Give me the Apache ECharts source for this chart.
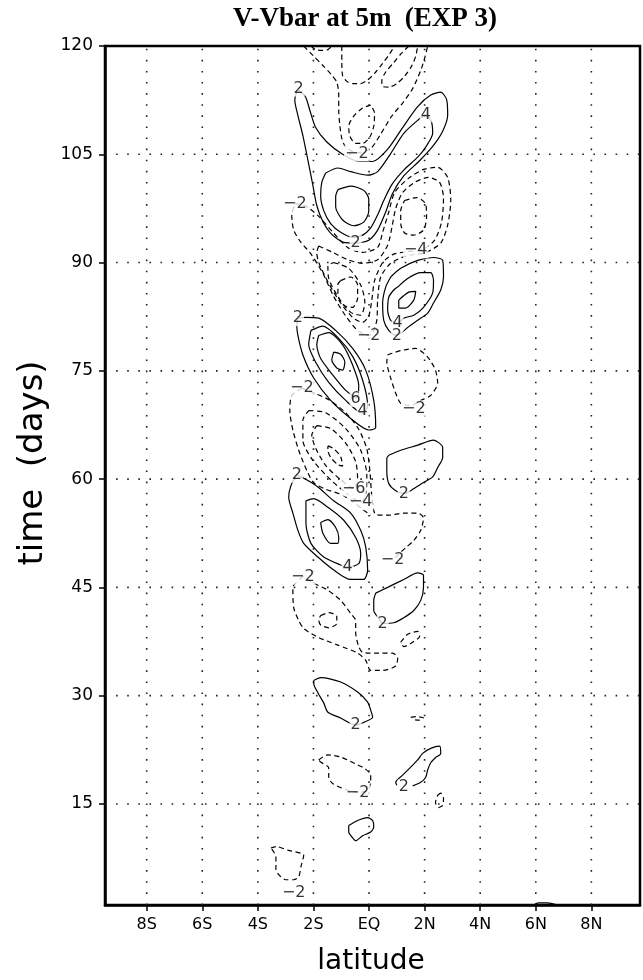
<!DOCTYPE html>
<html>
<head>
<meta charset="utf-8">
<script src="https://cdn.jsdelivr.net/npm/echarts@6/dist/echarts.min.js"></script>
<style>html,body{margin:0;padding:0;background:#fff;}#c{width:643px;height:980px;}</style>
</head>
<body>
<div id="c"></div>
<script>
// ---- axis ticks ----
const latTicks = [-8, -6, -4, -2, 0, 2, 4, 6, 8];
const latLabels = ['8S', '6S', '4S', '2S', 'EQ', '2N', '4N', '6N', '8N'];
const dayTicks = [15, 30, 45, 60, 75, 90, 105, 120];
const latRange = [-9.5, 9.75];
const dayRange = [1, 120];

// ---- contour lines, [latitude, day] ----
const topA = [[-2.35,120],[-2.02,118.7],[-1.66,117.3],[-1.37,116.1],[-1.16,115.0],[-1.09,113.2],[-1.09,111.1],[-1.05,109.0],[-0.98,107.2],[-0.84,106.0],[-0.44,105.2],[0.06,105.8],[0.42,107.8],[0.82,110.3],[1.21,112.1],[1.57,114.1],[1.86,116.6],[2.0,118.3],[2.11,120]];
const topB = [[-2.09,120],[-1.92,119.5],[-1.70,119.4],[-1.48,119.5],[-1.34,120]];
const topC = [[-0.98,120],[-0.98,118.0],[-0.95,115.9],[-0.80,115.1],[-0.59,114.8],[-0.30,114.8],[-0.05,115.3],[0.20,116.2],[0.49,117.6],[0.74,118.9],[0.92,120]];
const topD = [[1.43,120],[1.17,119.0],[0.89,117.7],[0.60,116.4],[0.46,115.2],[0.49,114.4],[0.71,114.3],[1.0,114.8],[1.28,115.8],[1.53,117.2],[1.68,118.6],[1.75,120]];
const topE = [[0.06,111.8],[-0.23,111.4],[-0.55,110.3],[-0.73,108.9],[-0.69,107.5],[-0.48,106.5],[-0.23,106.5],[0.03,107.4],[0.17,108.9],[0.20,110.7],[0.06,111.8]];

const bandA2 = [[-2.53,113.9],[-2.28,112.9],[-2.13,111.1],[-1.92,108.7],[-1.52,106.7],[-0.95,105.0],[-0.37,104.0],[0.13,104.0],[0.67,105.7],[1.21,108.7],[1.75,111.6],[2.22,113.2],[2.58,113.6],[2.79,112.6],[2.83,110.4],[2.65,108.2],[2.29,106.1],[1.79,104.0],[1.25,102.0],[0.85,99.6],[0.60,97.0],[0.31,94.5],[-0.01,93.1],[-0.48,92.7],[-0.91,92.8],[-1.34,93.9],[-1.66,95.7],[-1.88,97.9],[-2.02,100.7],[-2.20,104.2],[-2.38,107.6],[-2.56,110.4],[-2.67,112.5],[-2.63,113.3],[-2.53,113.9]];
const bandA4 = [[-1.56,102.4],[-1.12,103.1],[-0.66,102.6],[-0.05,102.1],[0.31,102.6],[0.78,105.1],[1.25,107.9],[1.75,109.7],[2.04,110.5],[2.25,109.4],[2.29,107.9],[2.04,106.0],[1.75,104.6],[1.25,102.8],[0.82,100.8],[0.53,98.6],[0.31,96.6],[0.06,94.8],[-0.23,93.8],[-0.59,93.5],[-1.02,94.2],[-1.38,95.4],[-1.63,97.2],[-1.74,99.3],[-1.70,101.1],[-1.56,102.4]];
const blobA6 = [[-1.12,100.1],[-0.66,100.6],[-0.19,100.0],[-0.01,98.8],[-0.01,97.1],[-0.19,95.6],[-0.55,95.1],[-0.95,95.9],[-1.20,97.7],[-1.20,99.2],[-1.12,100.1]];

const negB2 = [[-2.67,98.2],[-2.27,97.8],[-1.81,96.4],[-1.30,94.2],[-0.77,92.1],[-0.23,91.4],[0.31,92.1],[0.49,94.2],[0.71,97.0],[0.92,99.7],[1.43,101.7],[1.96,102.9],[2.47,103.2],[2.83,101.8],[2.94,98.6],[2.83,95.2],[2.58,92.7],[2.04,91.4],[1.32,90.9],[0.78,89.9],[0.42,88.0],[0.31,84.8],[0.28,82.0],[0.13,80.3],[-0.01,79.9],[-0.41,80.6],[-0.84,82.6],[-1.27,85.3],[-1.66,88.5],[-2.09,91.2],[-2.45,92.8],[-2.71,94.5],[-2.78,96.6],[-2.67,98.2]];
const negB4 = [[-1.81,92.3],[-1.30,91.4],[-0.77,90.4],[-0.23,89.9],[0.31,90.4],[0.67,92.4],[0.82,94.8],[0.96,97.5],[1.21,99.7],[1.64,101.1],[2.14,101.8],[2.54,101.1],[2.68,98.9],[2.61,95.6],[2.36,93.1],[1.93,91.8],[1.32,91.5],[0.85,91.1],[0.49,90.0],[0.20,87.5],[0.10,84.8],[-0.01,82.6],[-0.23,81.7],[-0.59,82.4],[-1.02,84.4],[-1.45,87.1],[-1.81,90.0],[-1.88,91.4],[-1.81,92.3]];
const negBR6 = [[1.28,98.6],[1.71,99.0],[2.04,98.1],[2.07,96.3],[1.96,94.5],[1.61,93.8],[1.28,94.1],[1.14,95.4],[1.14,97.2],[1.28,98.6]];
const negBL6 = [[-1.27,90.0],[-0.73,89.2],[-0.30,86.9],[-0.15,84.5],[-0.30,82.7],[-0.66,83.1],[-1.09,85.1],[-1.45,87.8],[-1.48,89.5],[-1.27,90.0]];
const negBL8 = [[-1.02,87.5],[-0.66,88.0],[-0.41,86.9],[-0.41,85.1],[-0.59,83.8],[-0.91,84.1],[-1.12,85.5],[-1.12,87.0],[-1.02,87.5]];

const posC2 = [[-2.56,82.3],[-2.27,82.4],[-1.81,82.3],[-1.20,80.6],[-0.59,78.1],[-0.12,75.1],[0.17,70.9],[0.24,67.1],[-0.01,66.8],[-0.66,68.4],[-1.38,70.9],[-1.99,74.0],[-2.38,77.2],[-2.56,79.9],[-2.60,81.3],[-2.56,82.3]];
const posC4 = [[-2.09,80.6],[-1.66,81.2],[-1.09,79.5],[-0.59,77.0],[-0.23,73.7],[-0.05,70.2],[-0.23,69.1],[-0.84,70.9],[-1.45,73.4],[-1.92,76.2],[-2.17,78.6],[-2.09,80.6]];
const posC6 = [[-1.81,79.9],[-1.45,80.3],[-0.95,78.6],[-0.59,75.8],[-0.37,73.0],[-0.44,71.3],[-0.84,72.3],[-1.30,74.4],[-1.74,76.7],[-1.88,78.6],[-1.81,79.9]];
const posC8 = [[-1.27,77.6],[-1.02,77.3],[-0.87,76.2],[-0.95,75.1],[-1.16,75.4],[-1.34,76.5],[-1.27,77.6]];
const negCr = [[0.67,77.2],[1.14,77.8],[1.68,78.1],[2.11,76.9],[2.39,75.1],[2.47,73.3],[2.22,71.6],[1.86,70.9],[1.50,70.2],[1.14,70.5],[0.96,71.9],[0.78,74.0],[0.64,76.2],[0.67,77.2]];

const posR2 = [[0.78,88.0],[1.14,89.2],[1.75,90.3],[2.32,90.7],[2.65,90.3],[2.68,88.0],[2.58,86.2],[2.32,84.4],[2.11,83.0],[1.75,82.0],[1.39,81.0],[1.14,80.2],[0.96,79.9],[0.71,80.6],[0.53,82.0],[0.49,84.4],[0.60,86.6],[0.78,88.0]];
const posR4 = [[1.03,86.6],[1.39,87.8],[1.86,88.6],[2.22,88.6],[2.32,87.5],[2.29,85.8],[1.96,83.8],[1.61,82.7],[1.25,82.3],[1.03,81.6],[0.78,82.0],[0.67,83.4],[0.71,85.2],[0.89,86.2],[1.03,86.6]];
const posR6 = [[1.07,84.8],[1.43,85.9],[1.68,86.0],[1.61,84.8],[1.32,83.7],[1.07,83.7],[1.07,84.8]];

const negDin = [[-1.48,64.6],[-1.27,64.2],[-1.02,63.1],[-0.95,61.8],[-1.12,62.0],[-1.38,63.0],[-1.48,64.0],[-1.48,64.6]];
const negD6 = [[-1.88,67.4],[-1.38,67.0],[-0.84,65.0],[-0.48,62.4],[-0.41,59.9],[-0.55,58.7],[-1.02,59.9],[-1.56,61.9],[-1.92,64.3],[-2.06,66.1],[-1.88,67.4]];
const negD4 = [[-2.17,69.5],[-1.56,69.2],[-0.84,67.0],[-0.30,64.0],[-0.08,60.6],[-0.12,57.8],[-0.30,56.8],[-0.73,57.8],[-1.38,59.9],[-2.02,62.6],[-2.38,65.4],[-2.38,68.2],[-2.17,69.5]];
const negD2a = [[-2.42,72.6],[-2.78,71.6],[-2.85,69.5],[-2.74,66.8],[-2.53,64.0],[-2.24,61.2],[-1.99,59.5],[-1.56,58.6],[-1.02,57.9],[-0.59,56.9],[-0.23,55.8],[0.06,55.0]];
const negD2b = [[-2.42,72.6],[-2.02,72.0],[-1.45,71.0],[-0.84,69.2],[-0.37,66.9],[-0.08,64.2],[0.03,61.2],[0.10,57.7],[0.24,55.1],[0.71,55.0],[1.25,55.3],[1.75,55.3],[1.96,54.6],[1.86,52.9],[1.61,51.5],[1.32,50.5],[0.85,48.8]];

const posD2 = [[0.71,63.3],[1.14,64.0],[1.75,64.7],[2.32,65.4],[2.65,64.4],[2.65,63.0],[2.47,61.6],[2.29,60.3],[1.86,59.3],[1.50,58.4],[1.25,58.0],[0.96,58.4],[0.71,59.4],[0.64,61.2],[0.64,62.9],[0.71,63.3]];

const posE2 = [[-2.60,60.6],[-2.81,59.1],[-2.89,57.5],[-2.74,55.3],[-2.56,52.9],[-2.35,51.1],[-1.84,49.2],[-1.27,47.4],[-0.66,46.1],[-0.19,46.1],[-0.05,47.4],[-0.12,50.6],[-0.30,52.9],[-0.66,55.3],[-1.27,57.0],[-1.84,58.9],[-2.20,59.8],[-2.60,60.6]];
const posE4 = [[-2.27,57.0],[-1.99,57.3],[-1.48,56.1],[-0.91,54.3],[-0.48,51.9],[-0.30,49.7],[-0.37,48.3],[-0.77,47.8],[-1.02,48.1],[-1.63,49.2],[-2.09,51.1],[-2.27,53.9],[-2.27,56.1],[-2.27,57.0]];
const posE6 = [[-1.74,54.0],[-1.48,54.4],[-1.20,53.3],[-1.09,51.9],[-1.12,51.1],[-1.38,51.1],[-1.66,52.5],[-1.74,54.0]];

const negF2 = [[-2.38,46.5],[-2.74,45.0],[-2.71,42.2],[-2.53,40.4],[-2.35,39.3],[-1.84,38.1],[-1.12,37.0],[-0.41,35.9],[-0.12,34.9],[0.06,33.5],[0.49,33.5],[0.96,34.1],[1.03,35.2],[0.85,35.9],[0.24,35.9],[-0.23,36.0],[-0.37,36.8],[-0.48,38.7],[-0.48,40.4],[-0.66,41.4],[-1.02,43.2],[-1.48,44.6],[-1.99,45.6],[-2.38,46.5]];
const negFin = [[-1.74,41.1],[-1.45,41.5],[-1.16,41.0],[-1.16,40.0],[-1.45,39.4],[-1.74,39.8],[-1.81,40.5],[-1.74,41.1]];
const posF2 = [[0.24,44.2],[0.67,45.0],[1.25,46.1],[1.75,47.0],[1.96,46.7],[1.96,45.0],[1.86,43.2],[1.61,41.8],[1.25,40.8],[0.89,40.1],[0.49,40.0],[0.35,40.7],[0.17,41.8],[0.17,43.2],[0.24,44.2]];
const negFs = [[1.14,37.4],[1.39,38.5],[1.75,38.9],[1.82,38.2],[1.61,37.5],[1.25,36.8],[1.14,37.4]];

const posG2 = [[-1.99,32.1],[-1.74,32.5],[-1.02,31.9],[-0.41,30.5],[-0.05,29.1],[0.06,28.0],[0.13,27.0],[-0.19,26.3],[-0.48,25.9],[-1.02,26.9],[-1.48,27.7],[-1.63,29.0],[-1.84,30.4],[-1.99,31.7],[-1.99,32.1]];
const negGs = [[1.50,27.0],[1.71,27.1],[1.96,26.9],[1.79,26.6],[1.53,26.7]];

const negH2 = [[-1.81,21.1],[-1.48,21.8],[-1.02,21.5],[-0.41,20.4],[-0.15,19.9],[0.06,19.0],[0.06,18.0],[-0.05,16.9],[-0.41,16.6],[-0.77,16.9],[-1.30,17.8],[-1.45,18.7],[-1.45,20.0],[-1.74,20.8],[-1.81,21.1]];
const posH2 = [[1.0,17.6],[0.96,18.0],[1.21,19.0],[1.50,20.1],[1.75,21.1],[1.93,22.0],[2.22,22.7],[2.54,23.0],[2.58,22.0],[2.39,21.4],[2.22,20.7],[2.11,19.7],[2.04,18.7],[1.86,18.0],[1.57,17.5]];
const negHs = [[2.47,16.2],[2.58,16.5],[2.68,15.8],[2.65,14.8],[2.50,14.5],[2.39,15.2],[2.47,16.2]];
const posI2 = [[-0.73,12.0],[-0.41,12.7],[-0.05,13.1],[0.13,12.7],[0.17,11.8],[0.06,11.1],[-0.23,10.6],[-0.48,9.9],[-0.59,10.3],[-0.73,11.1],[-0.73,12.0]];
const negI2 = [[-3.53,8.9],[-3.35,9.1],[-2.92,8.6],[-2.35,7.9],[-2.45,6.3],[-2.53,4.9],[-2.71,4.5],[-3.0,4.5],[-3.17,4.9],[-3.35,5.9],[-3.35,7.7],[-3.53,8.9]];
const posJ2 = [[5.92,1.0],[6.10,1.3],[6.42,1.3],[6.78,1.0]];

// contour level of each line
const contourSet = [
  [-2, topA], [-4, topB], [-4, topC], [-4, topD], [-4, topE],
  [2, bandA2], [4, bandA4], [6, blobA6],
  [-2, negB2], [-4, negB4], [-6, negBR6], [-6, negBL6], [-8, negBL8],
  [2, posC2], [4, posC4], [6, posC6], [8, posC8], [-2, negCr],
  [2, posR2], [4, posR4], [6, posR6],
  [-8, negDin], [-6, negD6], [-4, negD4], [-2, negD2a], [-2, negD2b],
  [2, posD2], [2, posE2], [4, posE4], [6, posE6],
  [-2, negF2], [-4, negFin], [2, posF2], [-2, negFs],
  [2, posG2], [-2, negGs], [-2, negH2], [2, posH2], [-2, negHs],
  [2, posI2], [-2, negI2], [2, posJ2]
];

// contour labels [lat, day, text]
const contourLabels = [
  [-2.53, 114.1, '2'], [2.04, 110.5, '4'], [-0.44, 105.1, '−2'], [-2.67, 98.2, '−2'],
  [-0.48, 92.7, '2'], [1.68, 91.7, '−4'], [-2.56, 82.3, '2'], [1.03, 81.6, '4'],
  [1.0, 79.9, '2'], [-0.01, 79.9, '−2'], [1.61, 69.8, '−2'], [-0.48, 71.1, '6'],
  [-0.23, 69.5, '4'], [-2.42, 72.6, '−2'], [-2.60, 60.6, '2'], [-0.55, 58.7, '−6'],
  [-0.30, 56.8, '−4'], [1.25, 58.0, '2'], [-0.77, 47.8, '4'], [0.85, 48.8, '−2'],
  [-2.38, 46.5, '−2'], [0.49, 40.0, '2'], [-0.48, 25.9, '2'], [-0.41, 16.6, '−2'],
  [1.25, 17.3, '2'], [-2.71, 2.7, '−2']
];

const chart = echarts.init(document.getElementById('c'), null, {renderer: 'canvas'});
const series = [];

// dotted grid lines
latTicks.forEach(v => series.push({
  type: 'line', data: [[v, dayRange[0]], [v, dayRange[1]]], showSymbol: false, silent: true,
  lineStyle: {color: '#222', width: 1.6, type: [1.6, 9.5]}, z: 1, animation: false
}));
dayTicks.filter(v => v < dayRange[1]).forEach(v => series.push({
  type: 'line', data: [[latRange[0], v], [latRange[1], v]], showSymbol: false, silent: true,
  lineStyle: {color: '#222', width: 1.6, type: [1.6, 9.5]}, z: 1, animation: false
}));

contourSet.forEach(([lv, pts]) => series.push({
  type: 'line', data: pts, showSymbol: false, silent: true, smooth: 0.25,
  lineStyle: {color: '#000', width: 1.2, type: lv < 0 ? [5, 3.5] : 'solid'},
  z: 3, animation: false
}));

series.push({
  type: 'scatter', symbolSize: 0, silent: true, z: 5, animation: false,
  data: contourLabels.map(l => ({value: [l[0], l[1]], label: {formatter: l[2]}})),
  label: {show: true, position: 'inside', color: '#000', fontFamily: 'DejaVu Sans', fontSize: 16,
          backgroundColor: '#fff', padding: [0, 1]}
});

chart.setOption({
  animation: false,
  backgroundColor: '#fff',
  grid: {left: 105, right: 3, top: 46, bottom: 75, show: true, borderColor: '#000', borderWidth: 2.5, backgroundColor: 'transparent'},
  xAxis: {
    type: 'value', min: latRange[0], max: latRange[1],
    axisLine: {show: true, onZero: false, lineStyle: {color: '#000', width: 2.5}},
    axisTick: {show: true, customValues: latTicks, length: 6, lineStyle: {color: '#000', width: 1.5}},
    axisLabel: {customValues: latTicks, formatter: v => latLabels[latTicks.indexOf(v)], color: '#000',
                fontFamily: 'DejaVu Sans', fontSize: 16, margin: 12},
    splitLine: {show: false}
  },
  yAxis: {
    type: 'value', min: dayRange[0], max: dayRange[1],
    axisLine: {show: true, onZero: false, lineStyle: {color: '#000', width: 2.5}},
    axisTick: {show: true, customValues: dayTicks, length: 6, lineStyle: {color: '#000', width: 1.5}},
    axisLabel: {customValues: dayTicks, color: '#000', fontFamily: 'DejaVu Sans', fontSize: 17, margin: 12},
    splitLine: {show: false}
  },
  graphic: [
    {type: 'text', x: 365, y: 19, style: {text: 'V-Vbar at 5m  (EXP 3)', font: 'bold 27px "Liberation Serif"', fill: '#000', textAlign: 'center', textVerticalAlign: 'middle'}},
    {type: 'text', x: 371, y: 962, style: {text: 'latitude', font: '28px "DejaVu Sans"', fill: '#000', textAlign: 'center', textVerticalAlign: 'middle'}},
    {type: 'text', x: 33, y: 463, rotation: Math.PI / 2, style: {text: 'time  (days)', font: '34px "DejaVu Sans"', fill: '#000', textAlign: 'center', textVerticalAlign: 'middle'}}
  ],
  series: series
});
</script>
</body>
</html>
